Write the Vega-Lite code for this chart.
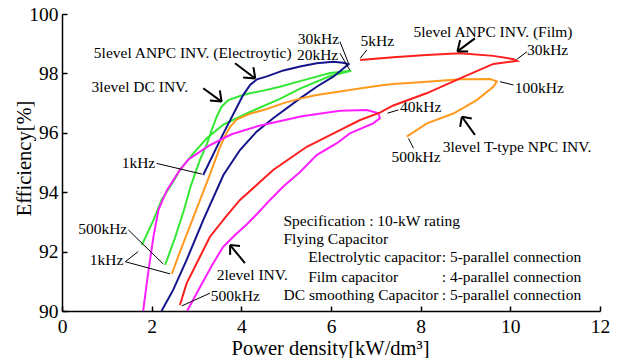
{
  "$schema": "https://vega.github.io/schema/vega-lite/v6.json",
  "width": 538,
  "height": 297,
  "autosize": {"type": "none"},
  "padding": {"left": 62, "top": 14, "right": 22, "bottom": 47},
  "background": "white",
  "config": {
    "view": {"stroke": null},
    "font": "Liberation Serif",
    "axis": {
      "grid": false, "tickSize": -5, "tickWidth": 1.5, "domainWidth": 1.5,
      "domainColor": "black", "tickColor": "black",
      "labelColor": "black", "titleColor": "black",
      "labelFont": "Liberation Serif", "titleFont": "Liberation Serif",
      "labelFontSize": 19.5, "titleFontSize": 20.5, "titleFontWeight": "normal",
      "labelFlush": false, "labelOverlap": false
    }
  },
  "datasets": {
    "curves": [
      {"s": "3level DC INV.", "i": 1, "x": 1.78, "y": 92.22},
      {"s": "3level DC INV.", "i": 2, "x": 2.04, "y": 93.06},
      {"s": "3level DC INV.", "i": 3, "x": 2.22, "y": 93.74},
      {"s": "3level DC INV.", "i": 4, "x": 2.48, "y": 94.35},
      {"s": "3level DC INV.", "i": 5, "x": 2.63, "y": 94.75},
      {"s": "3level DC INV.", "i": 6, "x": 2.93, "y": 95.31},
      {"s": "3level DC INV.", "i": 7, "x": 3.23, "y": 95.82},
      {"s": "3level DC INV.", "i": 8, "x": 3.60, "y": 96.28},
      {"s": "3level DC INV.", "i": 9, "x": 3.97, "y": 96.54},
      {"s": "3level DC INV.", "i": 10, "x": 4.19, "y": 96.70},
      {"s": "3level DC INV.", "i": 11, "x": 4.86, "y": 97.14},
      {"s": "3level DC INV.", "i": 12, "x": 5.31, "y": 97.49},
      {"s": "3level DC INV.", "i": 13, "x": 5.98, "y": 97.91},
      {"s": "3level DC INV.", "i": 14, "x": 6.45, "y": 98.09},
      {"s": "3level DC INV.", "i": 15, "x": 5.98, "y": 98.01},
      {"s": "3level DC INV.", "i": 16, "x": 5.31, "y": 97.74},
      {"s": "3level DC INV.", "i": 17, "x": 4.86, "y": 97.55},
      {"s": "3level DC INV.", "i": 18, "x": 4.49, "y": 97.42},
      {"s": "3level DC INV.", "i": 19, "x": 4.19, "y": 97.33},
      {"s": "3level DC INV.", "i": 20, "x": 3.97, "y": 97.24},
      {"s": "3level DC INV.", "i": 21, "x": 3.71, "y": 97.10},
      {"s": "3level DC INV.", "i": 22, "x": 3.56, "y": 96.88},
      {"s": "3level DC INV.", "i": 23, "x": 3.45, "y": 96.54},
      {"s": "3level DC INV.", "i": 24, "x": 3.34, "y": 96.10},
      {"s": "3level DC INV.", "i": 25, "x": 3.23, "y": 95.62},
      {"s": "3level DC INV.", "i": 26, "x": 3.08, "y": 95.10},
      {"s": "3level DC INV.", "i": 27, "x": 2.95, "y": 94.55},
      {"s": "3level DC INV.", "i": 28, "x": 2.86, "y": 94.15},
      {"s": "3level DC INV.", "i": 29, "x": 2.72, "y": 93.40},
      {"s": "3level DC INV.", "i": 30, "x": 2.52, "y": 92.46},
      {"s": "3level DC INV.", "i": 31, "x": 2.30, "y": 91.55},

      {"s": "5level ANPC INV. (Electroytic)", "i": 1, "x": 3.15, "y": 94.58},
      {"s": "5level ANPC INV. (Electroytic)", "i": 2, "x": 3.60, "y": 95.98},
      {"s": "5level ANPC INV. (Electroytic)", "i": 3, "x": 4.04, "y": 97.27},
      {"s": "5level ANPC INV. (Electroytic)", "i": 4, "x": 4.20, "y": 97.62},
      {"s": "5level ANPC INV. (Electroytic)", "i": 5, "x": 4.35, "y": 97.80},
      {"s": "5level ANPC INV. (Electroytic)", "i": 6, "x": 4.57, "y": 97.90},
      {"s": "5level ANPC INV. (Electroytic)", "i": 7, "x": 4.94, "y": 98.10},
      {"s": "5level ANPC INV. (Electroytic)", "i": 8, "x": 5.31, "y": 98.23},
      {"s": "5level ANPC INV. (Electroytic)", "i": 9, "x": 5.68, "y": 98.34},
      {"s": "5level ANPC INV. (Electroytic)", "i": 10, "x": 6.05, "y": 98.39},
      {"s": "5level ANPC INV. (Electroytic)", "i": 11, "x": 6.27, "y": 98.36},
      {"s": "5level ANPC INV. (Electroytic)", "i": 12, "x": 6.39, "y": 98.31},
      {"s": "5level ANPC INV. (Electroytic)", "i": 13, "x": 6.05, "y": 97.89},
      {"s": "5level ANPC INV. (Electroytic)", "i": 14, "x": 5.68, "y": 97.55},
      {"s": "5level ANPC INV. (Electroytic)", "i": 15, "x": 5.31, "y": 97.16},
      {"s": "5level ANPC INV. (Electroytic)", "i": 16, "x": 4.71, "y": 96.49},
      {"s": "5level ANPC INV. (Electroytic)", "i": 17, "x": 4.34, "y": 96.04},
      {"s": "5level ANPC INV. (Electroytic)", "i": 18, "x": 3.97, "y": 95.42},
      {"s": "5level ANPC INV. (Electroytic)", "i": 19, "x": 3.60, "y": 94.58},
      {"s": "5level ANPC INV. (Electroytic)", "i": 20, "x": 3.15, "y": 93.06},
      {"s": "5level ANPC INV. (Electroytic)", "i": 21, "x": 2.78, "y": 91.72},
      {"s": "5level ANPC INV. (Electroytic)", "i": 22, "x": 2.48, "y": 90.71},
      {"s": "5level ANPC INV. (Electroytic)", "i": 23, "x": 2.22, "y": 90.0},

      {"s": "3level T-type NPC INV.", "i": 1, "x": 2.45, "y": 91.25},
      {"s": "3level T-type NPC INV.", "i": 2, "x": 2.63, "y": 91.99},
      {"s": "3level T-type NPC INV.", "i": 3, "x": 2.89, "y": 93.00},
      {"s": "3level T-type NPC INV.", "i": 4, "x": 3.08, "y": 93.74},
      {"s": "3level T-type NPC INV.", "i": 5, "x": 3.30, "y": 94.60},
      {"s": "3level T-type NPC INV.", "i": 6, "x": 3.52, "y": 95.50},
      {"s": "3level T-type NPC INV.", "i": 7, "x": 3.62, "y": 95.85},
      {"s": "3level T-type NPC INV.", "i": 8, "x": 3.75, "y": 96.20},
      {"s": "3level T-type NPC INV.", "i": 9, "x": 3.90, "y": 96.45},
      {"s": "3level T-type NPC INV.", "i": 10, "x": 4.19, "y": 96.64},
      {"s": "3level T-type NPC INV.", "i": 11, "x": 4.57, "y": 96.80},
      {"s": "3level T-type NPC INV.", "i": 12, "x": 4.94, "y": 97.00},
      {"s": "3level T-type NPC INV.", "i": 13, "x": 5.31, "y": 97.15},
      {"s": "3level T-type NPC INV.", "i": 14, "x": 5.68, "y": 97.27},
      {"s": "3level T-type NPC INV.", "i": 15, "x": 6.42, "y": 97.44},
      {"s": "3level T-type NPC INV.", "i": 16, "x": 7.09, "y": 97.59},
      {"s": "3level T-type NPC INV.", "i": 17, "x": 7.39, "y": 97.64},
      {"s": "3level T-type NPC INV.", "i": 18, "x": 8.14, "y": 97.72},
      {"s": "3level T-type NPC INV.", "i": 19, "x": 8.88, "y": 97.80},
      {"s": "3level T-type NPC INV.", "i": 20, "x": 9.55, "y": 97.81},
      {"s": "3level T-type NPC INV.", "i": 21, "x": 9.70, "y": 97.73},
      {"s": "3level T-type NPC INV.", "i": 22, "x": 9.62, "y": 97.55},
      {"s": "3level T-type NPC INV.", "i": 23, "x": 9.25, "y": 97.10},
      {"s": "3level T-type NPC INV.", "i": 24, "x": 8.73, "y": 96.65},
      {"s": "3level T-type NPC INV.", "i": 25, "x": 8.14, "y": 96.32},
      {"s": "3level T-type NPC INV.", "i": 26, "x": 7.69, "y": 95.87},

      {"s": "2level INV.", "i": 1, "x": 1.81, "y": 90.0},
      {"s": "2level INV.", "i": 2, "x": 1.93, "y": 91.38},
      {"s": "2level INV.", "i": 3, "x": 2.04, "y": 92.5},
      {"s": "2level INV.", "i": 4, "x": 2.15, "y": 93.4},
      {"s": "2level INV.", "i": 5, "x": 2.34, "y": 94.07},
      {"s": "2level INV.", "i": 6, "x": 2.63, "y": 94.75},
      {"s": "2level INV.", "i": 7, "x": 2.82, "y": 95.10},
      {"s": "2level INV.", "i": 8, "x": 3.28, "y": 95.57},
      {"s": "2level INV.", "i": 9, "x": 3.78, "y": 95.95},
      {"s": "2level INV.", "i": 10, "x": 4.40, "y": 96.24},
      {"s": "2level INV.", "i": 11, "x": 5.35, "y": 96.56},
      {"s": "2level INV.", "i": 12, "x": 6.2, "y": 96.74},
      {"s": "2level INV.", "i": 13, "x": 6.8, "y": 96.77},
      {"s": "2level INV.", "i": 14, "x": 7.06, "y": 96.66},
      {"s": "2level INV.", "i": 15, "x": 7.09, "y": 96.49},
      {"s": "2level INV.", "i": 16, "x": 6.94, "y": 96.32},
      {"s": "2level INV.", "i": 17, "x": 6.42, "y": 95.98},
      {"s": "2level INV.", "i": 18, "x": 6.13, "y": 95.65},
      {"s": "2level INV.", "i": 19, "x": 5.68, "y": 95.25},
      {"s": "2level INV.", "i": 20, "x": 5.31, "y": 94.68},
      {"s": "2level INV.", "i": 21, "x": 4.93, "y": 94.18},
      {"s": "2level INV.", "i": 22, "x": 4.64, "y": 93.74},
      {"s": "2level INV.", "i": 23, "x": 4.37, "y": 93.30},
      {"s": "2level INV.", "i": 24, "x": 4.13, "y": 92.93},
      {"s": "2level INV.", "i": 25, "x": 3.86, "y": 92.56},
      {"s": "2level INV.", "i": 26, "x": 3.59, "y": 92.15},
      {"s": "2level INV.", "i": 27, "x": 3.35, "y": 91.55},
      {"s": "2level INV.", "i": 28, "x": 3.08, "y": 90.81},
      {"s": "2level INV.", "i": 29, "x": 2.79, "y": 90.0},

      {"s": "5level ANPC INV. (Film)", "i": 1, "x": 6.65, "y": 98.45},
      {"s": "5level ANPC INV. (Film)", "i": 2, "x": 7.39, "y": 98.54},
      {"s": "5level ANPC INV. (Film)", "i": 3, "x": 8.13, "y": 98.62},
      {"s": "5level ANPC INV. (Film)", "i": 4, "x": 8.88, "y": 98.68},
      {"s": "5level ANPC INV. (Film)", "i": 5, "x": 9.62, "y": 98.59},
      {"s": "5level ANPC INV. (Film)", "i": 6, "x": 10.07, "y": 98.48},
      {"s": "5level ANPC INV. (Film)", "i": 7, "x": 10.15, "y": 98.42},
      {"s": "5level ANPC INV. (Film)", "i": 8, "x": 9.62, "y": 98.32},
      {"s": "5level ANPC INV. (Film)", "i": 9, "x": 8.88, "y": 97.83},
      {"s": "5level ANPC INV. (Film)", "i": 10, "x": 8.13, "y": 97.33},
      {"s": "5level ANPC INV. (Film)", "i": 11, "x": 7.39, "y": 96.92},
      {"s": "5level ANPC INV. (Film)", "i": 12, "x": 7.09, "y": 96.68},
      {"s": "5level ANPC INV. (Film)", "i": 13, "x": 6.65, "y": 96.43},
      {"s": "5level ANPC INV. (Film)", "i": 14, "x": 6.2, "y": 96.09},
      {"s": "5level ANPC INV. (Film)", "i": 15, "x": 5.46, "y": 95.53},
      {"s": "5level ANPC INV. (Film)", "i": 16, "x": 4.71, "y": 94.75},
      {"s": "5level ANPC INV. (Film)", "i": 17, "x": 4.42, "y": 94.35},
      {"s": "5level ANPC INV. (Film)", "i": 18, "x": 3.97, "y": 93.74},
      {"s": "5level ANPC INV. (Film)", "i": 19, "x": 3.67, "y": 93.20},
      {"s": "5level ANPC INV. (Film)", "i": 20, "x": 3.30, "y": 92.50},
      {"s": "5level ANPC INV. (Film)", "i": 21, "x": 2.78, "y": 90.93},
      {"s": "5level ANPC INV. (Film)", "i": 22, "x": 2.63, "y": 90.20}
    ],
    "leaders": [
      {"x": 6.2, "y": 99.07, "x2": 6.39, "y2": 98.34},
      {"x": 6.2, "y": 98.68, "x2": 6.42, "y2": 98.11},
      {"x": 6.8, "y": 98.79, "x2": 6.65, "y2": 98.51},
      {"x": 10.37, "y": 98.73, "x2": 10.14, "y2": 98.47},
      {"x": 10.07, "y": 97.61, "x2": 9.77, "y2": 97.72},
      {"x": 7.5, "y": 96.77, "x2": 7.26, "y2": 96.66},
      {"x": 7.84, "y": 95.48, "x2": 7.73, "y2": 95.81},
      {"x": 2.11, "y": 94.97, "x2": 3.12, "y2": 94.61},
      {"x": 1.48, "y": 92.73, "x2": 2.26, "y2": 91.58},
      {"x": 1.41, "y": 91.66, "x2": 1.7, "y2": 92.0},
      {"x": 1.41, "y": 91.66, "x2": 2.41, "y2": 91.25},
      {"x": 3.3, "y": 90.6, "x2": 2.67, "y2": 90.17}
    ],
    "arrows": [
      {"x": 3.86, "y": 98.34, "x2": 4.31, "y2": 97.83},
      {"x": 4.31, "y": 97.83, "x2": 4.04, "y2": 97.86},
      {"x": 4.31, "y": 97.83, "x2": 4.27, "y2": 98.21},
      {"x": 3.15, "y": 97.5, "x2": 3.56, "y2": 97.05},
      {"x": 3.56, "y": 97.05, "x2": 3.3, "y2": 97.09},
      {"x": 3.56, "y": 97.05, "x2": 3.52, "y2": 97.43},
      {"x": 9.21, "y": 99.18, "x2": 8.82, "y2": 98.74},
      {"x": 8.82, "y": 98.74, "x2": 8.88, "y2": 99.12},
      {"x": 8.82, "y": 98.74, "x2": 9.06, "y2": 98.74},
      {"x": 9.21, "y": 95.93, "x2": 8.92, "y2": 96.54},
      {"x": 8.92, "y": 96.54, "x2": 8.88, "y2": 96.2},
      {"x": 8.92, "y": 96.54, "x2": 9.14, "y2": 96.48},
      {"x": 4.08, "y": 91.61, "x2": 3.75, "y2": 92.22},
      {"x": 3.75, "y": 92.22, "x2": 3.75, "y2": 91.89},
      {"x": 3.75, "y": 92.22, "x2": 3.97, "y2": 92.19}
    ],
    "labels": [
      {"t": "5level ANPC INV. (Electroytic)", "x": 0.71, "y": 98.68},
      {"t": "30kHz", "x": 5.26, "y": 99.17},
      {"t": "20kHz", "x": 5.24, "y": 98.62},
      {"t": "3level DC INV.", "x": 0.66, "y": 97.53},
      {"t": "1kHz", "x": 1.33, "y": 95.0},
      {"t": "5kHz", "x": 6.66, "y": 99.1},
      {"t": "5level ANPC INV. (Film)", "x": 7.84, "y": 99.41},
      {"t": "30kHz", "x": 10.37, "y": 98.79},
      {"t": "100kHz", "x": 10.1, "y": 97.5},
      {"t": "40kHz", "x": 7.54, "y": 96.88},
      {"t": "500kHz", "x": 7.35, "y": 95.2},
      {"t": "3level T-type NPC INV.", "x": 8.49, "y": 95.53},
      {"t": "500kHz", "x": 0.36, "y": 92.75},
      {"t": "1kHz", "x": 0.62, "y": 91.72},
      {"t": "2level INV.", "x": 3.45, "y": 91.21},
      {"t": "500kHz", "x": 3.32, "y": 90.5},
      {"t": "Specification : 10-kW rating", "x": 4.94, "y": 93.04},
      {"t": "Flying Capacitor", "x": 4.94, "y": 92.41},
      {"t": "Electrolytic capacitor", "x": 5.49, "y": 91.81},
      {"t": ": 5-parallel connection", "x": 8.47, "y": 91.81},
      {"t": "Film capacitor", "x": 5.49, "y": 91.15},
      {"t": ": 4-parallel connection", "x": 8.47, "y": 91.15},
      {"t": "DC smoothing Capacitor", "x": 4.94, "y": 90.54},
      {"t": ": 5-parallel connection", "x": 8.47, "y": 90.54}
    ]
  },
  "layer": [
    {
      "data": {"name": "curves"},
      "mark": {"type": "line", "strokeWidth": 2, "clip": true},
      "encoding": {
        "x": {
          "field": "x", "type": "quantitative",
          "scale": {"domain": [0, 12], "nice": false, "zero": false},
          "axis": {
            "title": "Power density[kW/dm³]",
            "values": [0, 2, 4, 6, 8, 10, 12],
            "labelPadding": 11,
            "titleX": 268, "titleY": 37, "titleBaseline": "middle", "titleAlign": "center"
          }
        },
        "y": {
          "field": "y", "type": "quantitative",
          "scale": {"domain": [90, 100], "nice": false, "zero": false},
          "axis": {
            "title": "Efficiency[%]",
            "values": [90, 92, 94, 96, 98, 100],
            "labelPadding": 9,
            "titleX": -38, "titleY": 144, "titleBaseline": "middle", "titleAlign": "center", "titleAngle": -90
          }
        },
        "color": {
          "field": "s", "type": "nominal",
          "scale": {
            "domain": ["3level DC INV.", "5level ANPC INV. (Electroytic)", "3level T-type NPC INV.", "2level INV.", "5level ANPC INV. (Film)"],
            "range": ["#33e833", "#14148c", "#ff9a1e", "#ff1eff", "#ff1e1e"]
          },
          "legend": null
        },
        "order": {"field": "i", "type": "quantitative"}
      }
    },
    {
      "data": {"name": "leaders"},
      "mark": {"type": "rule", "color": "black", "strokeWidth": 1},
      "encoding": {
        "x": {"field": "x", "type": "quantitative"},
        "y": {"field": "y", "type": "quantitative"},
        "x2": {"field": "x2"},
        "y2": {"field": "y2"}
      }
    },
    {
      "data": {"name": "arrows"},
      "mark": {"type": "rule", "color": "black", "strokeWidth": 2},
      "encoding": {
        "x": {"field": "x", "type": "quantitative"},
        "y": {"field": "y", "type": "quantitative"},
        "x2": {"field": "x2"},
        "y2": {"field": "y2"}
      }
    },
    {
      "data": {"name": "labels"},
      "mark": {"type": "text", "align": "left", "baseline": "middle", "font": "Liberation Serif", "fontSize": 15.5, "color": "black"},
      "encoding": {
        "x": {"field": "x", "type": "quantitative"},
        "y": {"field": "y", "type": "quantitative"},
        "text": {"field": "t", "type": "nominal"}
      }
    }
  ]
}
